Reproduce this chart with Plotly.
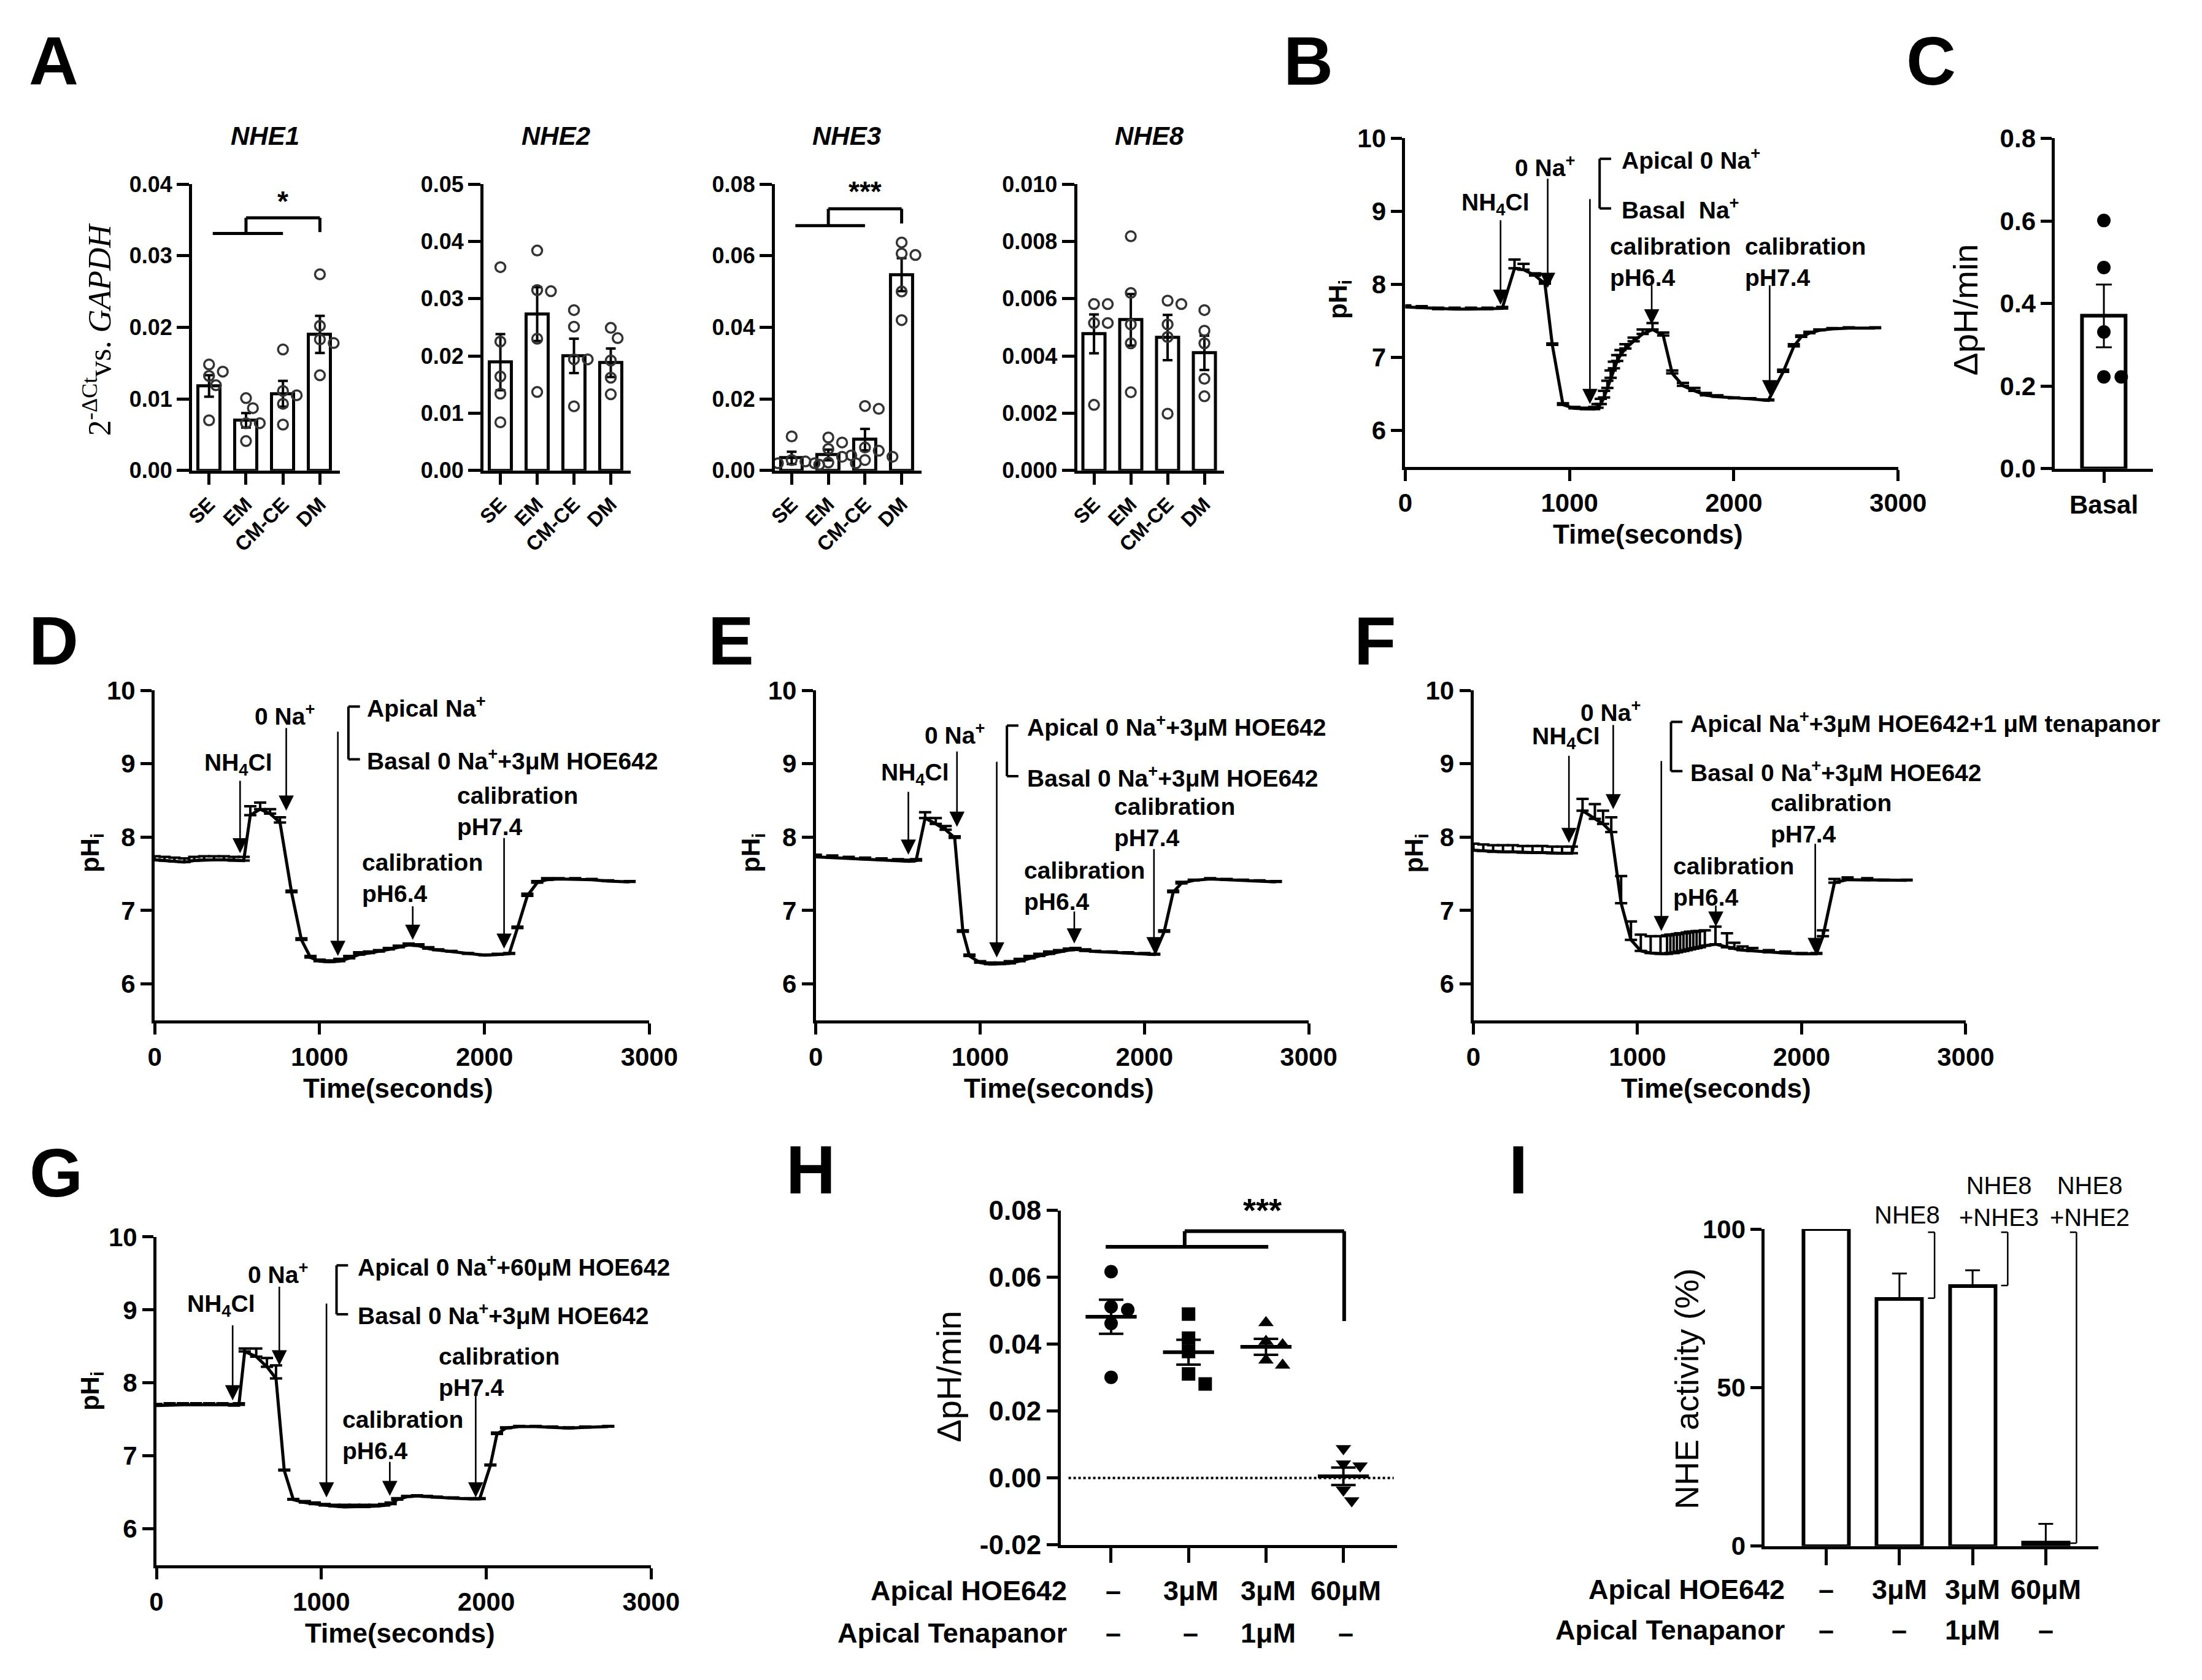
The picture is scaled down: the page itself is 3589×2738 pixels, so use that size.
import plotly.graph_objects as go

W, H = 3589, 2738
PAGE_MARGIN = 8  # default body margin of the html page


def PX(x):
    return (x - PAGE_MARGIN) / W


def PY(y):
    return 1 - (y - PAGE_MARGIN) / H


FN = "Liberation Sans, Arial, sans-serif"
FA = "Liberation Sans, Arial, sans-serif"
FS = "Liberation Serif, Times New Roman, serif"

# ---------------- Panel A data ----------------
A_CATS = ["SE", "EM", "CM-CE", "DM"]
A_GENES = ["NHE1", "NHE2", "NHE3", "NHE8"]
NHE1_MEAN = [0.0118, 0.0070, 0.0107, 0.0190]
NHE1_SEM = [0.0015, 0.0010, 0.0018, 0.0026]
NHE1_PTS = [[0.0148, 0.0138, 0.0132, 0.0119, 0.0070],
            [0.0101, 0.0087, 0.0066, 0.0066, 0.0041],
            [0.0169, 0.0111, 0.0105, 0.0093, 0.0064],
            [0.0274, 0.0202, 0.0183, 0.0178, 0.0133]]
NHE2_MEAN = [0.0189, 0.0273, 0.0200, 0.0188]
NHE2_SEM = [0.0049, 0.0047, 0.0030, 0.0025]
NHE2_PTS = [[0.0355, 0.0225, 0.0164, 0.0134, 0.0084],
            [0.0384, 0.0315, 0.0313, 0.0230, 0.0137],
            [0.0280, 0.0251, 0.0194, 0.0194, 0.0112],
            [0.0249, 0.0231, 0.0192, 0.0162, 0.0133]]
NHE3_MEAN = [0.0035, 0.0043, 0.0086, 0.0547]
NHE3_SEM = [0.0017, 0.0015, 0.0030, 0.0046]
NHE3_PTS = [[0.0095, 0.0029, 0.0025, 0.0020, 0.0016],
            [0.0092, 0.0078, 0.0060, 0.0038, 0.0022, 0.0020, 0.0020],
            [0.0180, 0.0172, 0.0064, 0.0055, 0.0042, 0.0038, 0.0029],
            [0.0637, 0.0606, 0.0602, 0.0500, 0.0420]]
NHE8_MEAN = [0.00477, 0.00526, 0.00464, 0.00411]
NHE8_SEM = [0.00068, 0.00090, 0.00079, 0.00060]
NHE8_PTS = [[0.00581, 0.00581, 0.00515, 0.00515, 0.00229],
            [0.00818, 0.00620, 0.00510, 0.00444, 0.00273],
            [0.00593, 0.00581, 0.00510, 0.00466, 0.00198],
            [0.00560, 0.00488, 0.00444, 0.00320, 0.00259]]
A_YMAX = [0.04, 0.05, 0.08, 0.010]
A_DTICK = [0.01, 0.01, 0.02, 0.002]
A_FMT = [".2f", ".2f", ".2f", ".3f"]

# ---------------- Panel B/C data ----------------
B_T = [0, 100, 200, 300, 400, 500, 590, 665, 720, 790, 850, 895, 960, 1030, 1100,
       1150, 1170, 1190, 1210, 1230, 1250, 1270, 1290, 1310, 1340, 1390, 1445, 1505,
       1570, 1625, 1690, 1760, 1830, 1900, 2000, 2100, 2210, 2300, 2365, 2410, 2460,
       2520, 2600, 2700, 2860]
B_PH = [7.69, 7.68, 7.66, 7.66, 7.66, 7.66, 7.67, 8.22, 8.20, 8.12, 8.01, 7.17, 6.35,
        6.30, 6.29, 6.29, 6.31, 6.36, 6.45, 6.58, 6.72, 6.85, 6.95, 7.03, 7.12, 7.22,
        7.32, 7.38, 7.30, 6.78, 6.61, 6.54, 6.48, 6.46, 6.44, 6.43, 6.41, 6.80, 7.15,
        7.28, 7.33, 7.37, 7.39, 7.40, 7.40]
B_SEM = [0.02, 0.02, 0.02, 0.02, 0.02, 0.02, 0.02, 0.12, 0.08, 0.03, 0.03, 0.02, 0.02,
         0.02, 0.02, 0.03, 0.05, 0.07, 0.09, 0.10, 0.10, 0.09, 0.08, 0.07, 0.06, 0.05,
         0.06, 0.09, 0.04, 0.04, 0.04, 0.04, 0.03, 0.02, 0.01, 0.01, 0.01, 0.03, 0.03,
         0.02, 0.02, 0.01, 0.01, 0.01, 0.01]
C_MEAN = [0.37]
C_SEM = [0.076]
C_PTS = [0.601, 0.487, 0.331, 0.222, 0.222]

# ---------------- Panel D-G data ----------------
D_T = [0, 60, 120, 180, 240, 300, 360, 420, 480, 540, 580, 640, 700, 760, 830, 890,
       945, 1000, 1060, 1120, 1180, 1240, 1300, 1360, 1420, 1480, 1540, 1600, 1660,
       1720, 1800, 1900, 2000, 2080, 2150, 2200, 2260, 2320, 2380, 2450, 2550, 2650,
       2750, 2880]
D_PH = [7.69, 7.68, 7.67, 7.66, 7.68, 7.69, 7.69, 7.69, 7.68, 7.68, 8.30, 8.38, 8.32,
        8.20, 7.25, 6.60, 6.36, 6.31, 6.30, 6.31, 6.35, 6.40, 6.42, 6.44, 6.47, 6.50,
        6.53, 6.52, 6.48, 6.46, 6.44, 6.41, 6.39, 6.40, 6.41, 6.76, 7.20, 7.38, 7.42,
        7.43, 7.43, 7.42, 7.40, 7.39]
D_SEM = [0.05, 0.05, 0.05, 0.05, 0.05, 0.05, 0.05, 0.05, 0.05, 0.05, 0.12, 0.09, 0.06,
         0.07, 0.02, 0.02, 0.02, 0.02, 0.02, 0.03, 0.03, 0.03, 0.02, 0.02, 0.02, 0.02,
         0.02, 0.02, 0.02, 0.01, 0.01, 0.01, 0.01, 0.01, 0.01, 0.02, 0.03, 0.02, 0.02,
         0.01, 0.01, 0.01, 0.01, 0.01]
E_T = [0, 100, 200, 300, 400, 500, 570, 610, 665, 730, 790, 845, 895, 935, 1000, 1060,
       1120, 1180, 1240, 1300, 1360, 1420, 1480, 1540, 1580, 1640, 1700, 1800, 1900,
       2000, 2060, 2120, 2175, 2225, 2300, 2400, 2500, 2600, 2700, 2800]
E_PH = [7.73, 7.72, 7.71, 7.70, 7.69, 7.68, 7.67, 7.68, 8.26, 8.18, 8.10, 7.99, 6.71,
        6.38, 6.29, 6.27, 6.27, 6.28, 6.31, 6.35, 6.38, 6.41, 6.44, 6.46, 6.47, 6.45,
        6.44, 6.43, 6.42, 6.41, 6.40, 6.71, 7.25, 7.37, 7.41, 7.43, 7.42, 7.41, 7.40,
        7.39]
E_SEM = [0.03, 0.03, 0.02, 0.02, 0.02, 0.02, 0.02, 0.02, 0.08, 0.08, 0.05, 0.02, 0.02,
         0.02, 0.02, 0.02, 0.02, 0.03, 0.03, 0.03, 0.03, 0.03, 0.02, 0.02, 0.02, 0.02,
         0.01, 0.01, 0.01, 0.01, 0.01, 0.02, 0.02, 0.02, 0.01, 0.01, 0.01, 0.01, 0.01,
         0.01]
F_T = [0, 60, 120, 180, 240, 300, 360, 420, 480, 540, 600, 665, 740, 790, 840, 900,
       960, 1020, 1080, 1140, 1180, 1200, 1220, 1240, 1260, 1280, 1300, 1320, 1340,
       1360, 1380, 1410, 1475, 1545, 1590, 1640, 1700, 1800, 1900, 2000, 2090, 2130,
       2200, 2280, 2400, 2500, 2640]
F_PH = [7.82, 7.81, 7.80, 7.80, 7.80, 7.79, 7.79, 7.79, 7.78, 7.78, 7.78, 8.36, 8.25,
        8.18, 8.07, 7.10, 6.60, 6.45, 6.42, 6.41, 6.41, 6.42, 6.42, 6.43, 6.44, 6.45,
        6.46, 6.47, 6.48, 6.49, 6.50, 6.52, 6.54, 6.50, 6.48, 6.46, 6.45, 6.43, 6.42,
        6.41, 6.41, 6.65, 7.38, 7.42, 7.42, 7.41, 7.41]
F_SEM = [0.09, 0.09, 0.09, 0.09, 0.09, 0.09, 0.09, 0.09, 0.09, 0.09, 0.09, 0.16, 0.20,
         0.18, 0.20, 0.37, 0.25, 0.22, 0.23, 0.24, 0.25, 0.25, 0.25, 0.25, 0.25, 0.24,
         0.24, 0.24, 0.23, 0.23, 0.22, 0.21, 0.24, 0.19, 0.08, 0.05, 0.04, 0.03, 0.02,
         0.01, 0.01, 0.08, 0.05, 0.03, 0.02, 0.01, 0.01]
G_T = [0, 80, 160, 240, 320, 400, 470, 500, 535, 605, 670, 725, 775, 830, 900, 960,
       1020, 1080, 1140, 1200, 1260, 1320, 1380, 1420, 1460, 1520, 1580, 1640, 1700,
       1800, 1900, 1960, 2025, 2065, 2120, 2200, 2300, 2400, 2500, 2600, 2740]
G_PH = [7.69, 7.70, 7.70, 7.70, 7.70, 7.70, 7.69, 7.70, 8.43, 8.36, 8.22, 8.06, 6.80,
        6.40, 6.36, 6.34, 6.32, 6.31, 6.30, 6.30, 6.30, 6.31, 6.32, 6.34, 6.40, 6.44,
        6.45, 6.44, 6.43, 6.42, 6.41, 6.41, 6.87, 7.30, 7.38, 7.40, 7.40, 7.39, 7.38,
        7.39, 7.40]
G_SEM = [0.02, 0.02, 0.02, 0.02, 0.02, 0.02, 0.02, 0.02, 0.04, 0.11, 0.12, 0.18, 0.01,
         0.01, 0.02, 0.02, 0.02, 0.02, 0.03, 0.03, 0.03, 0.02, 0.02, 0.02, 0.02, 0.01,
         0.01, 0.01, 0.01, 0.01, 0.01, 0.01, 0.01, 0.02, 0.01, 0.01, 0.01, 0.01, 0.01,
         0.01, 0.01]

# ---------------- Panel H / I data ----------------
H_PTS = [[0.0617, 0.0512, 0.0503, 0.0462, 0.0301],
         [0.0490, 0.0418, 0.0378, 0.0311, 0.0281],
         [0.0464, 0.0408, 0.0398, 0.0352, 0.0337],
         [0.0088, 0.0042, 0.0036, -0.0036, -0.0068]]
H_MEAN = [0.0482, 0.0376, 0.0392, 0.0005]
H_SEM = [0.0051, 0.0037, 0.0024, 0.0026]
H_SYMBOLS = ["circle", "square", "triangle-up", "triangle-down"]
H_TICKS = [-0.02, 0.0, 0.02, 0.04, 0.06, 0.08]
H_TICKTEXT = ["-0.02", "0.00", "0.02", "0.04", "0.06", "0.08"]
ROW_HOE = ["–", "3μM", "3μM", "60μM"]
ROW_TEN = ["–", "–", "1μM", "–"]
I_MEAN = [100, 78, 82, 1]
I_SEM = [0, 8, 5, 6]

fig = go.Figure()
ann = []
shp = []


def sfx(i):
    return "" if i == 1 else str(i)


def make_axes(i, x0, x1, ytop, ybot, xa, ya):
    s = sfx(i)
    base = dict(showline=True, linecolor="black", linewidth=5, ticks="outside",
                tickcolor="black", tickwidth=5, showgrid=False, zeroline=False,
                fixedrange=True)
    xd = {**base, "domain": [PX(x0), PX(x1)], "anchor": "y" + s, **xa}
    yd = {**base, "domain": [PY(ybot), PY(ytop)], "anchor": "x" + s, **ya}
    fig.update_layout({"xaxis" + s: xd, "yaxis" + s: yd})


def tfont(size, family=FN, bold=True, italic=False):
    return dict(family=family, size=size, color="black",
                weight="bold" if bold else "normal",
                style="italic" if italic else "normal")


def text(x, y, t, size, family=FN, bold=True, xref="paper", yref="paper",
         xanchor="center", yanchor="middle", angle=0, italic=False, align="center"):
    if xref == "paper":
        x = PX(x)
    if yref == "paper":
        y = PY(y)
    ann.append(dict(x=x, y=y, xref=xref, yref=yref, text=t, showarrow=False,
                    xanchor=xanchor, yanchor=yanchor, textangle=angle, align=align,
                    font=tfont(size, family, bold, italic)))


def line(i, x0, y0, x1, y1, w=5, dash="solid"):
    s = sfx(i)
    shp.append(dict(type="line", xref="x" + s, yref="y" + s, x0=x0, y0=y0, x1=x1, y1=y1,
                    line=dict(color="black", width=w, dash=dash)))


def arrow(i, x, y0, y1):
    s = sfx(i)
    ann.append(dict(x=x, y=y1, ax=x, ay=y0, xref="x" + s, yref="y" + s,
                    axref="x" + s, ayref="y" + s, text="", showarrow=True,
                    arrowhead=2, arrowsize=1.9, arrowwidth=2.6, arrowcolor="black"))


def ypix(v, ytop, ybot, lo, hi):
    # pixel row of a data value on a linear axis spanning [lo, hi]
    return ybot - (v - lo) / (hi - lo) * (ybot - ytop)


def swarm(vals, center, xunit_per_px, yunit_per_px, d):
    placed = []
    xs = [0.0] * len(vals)
    order = sorted(range(len(vals)), key=lambda k: -vals[k])
    for k in order:
        chosen = 0.0
        for step in [0, 1, -1, 2, -2, 3, -3, 4, -4]:
            xo = step * d * 0.6
            ok = all((xo - p) ** 2 + ((vals[k] - v) / yunit_per_px) ** 2 >= (0.95 * d) ** 2
                     for p, v in placed)
            if ok:
                chosen = xo
                break
        placed.append((chosen, vals[k]))
        xs[k] = center + chosen * xunit_per_px
    return xs


# ---------------- Panel A ----------------
A_X = [(305, 550), (788, 1032), (1271, 1514), (1772, 2016)]
A_YTOP, A_YBOT = 280, 755
A_MEANS = [NHE1_MEAN, NHE2_MEAN, NHE3_MEAN, NHE8_MEAN]
A_SEMS = [NHE1_SEM, NHE2_SEM, NHE3_SEM, NHE8_SEM]
A_PTS = [NHE1_PTS, NHE2_PTS, NHE3_PTS, NHE8_PTS]
for g in range(4):
    i = g + 1
    s = sfx(i)
    x0, x1 = A_X[g]
    make_axes(i, x0, x1, A_YTOP, A_YBOT,
              dict(range=[-0.46, 3.54], tickvals=[0, 1, 2, 3], ticktext=A_CATS,
                   tickangle=-45, ticklen=18, tickfont=tfont(33)),
              dict(range=[0, A_YMAX[g]], dtick=A_DTICK[g], tick0=0, tickformat=A_FMT[g],
                   ticklen=20, tickfont=tfont(36)))
    fig.add_trace(go.Bar(x=[0, 1, 2, 3], y=A_MEANS[g], width=0.6,
                         marker=dict(color="white", line=dict(color="black", width=5)),
                         error_y=dict(type="data", array=A_SEMS[g], color="black",
                                      thickness=4, width=8),
                         xaxis="x" + s, yaxis="y" + s, showlegend=False, cliponaxis=False))
    upx_x = 4.0 / (x1 - x0)
    upx_y = A_YMAX[g] / (A_YBOT - A_YTOP)
    for c in range(4):
        vals = A_PTS[g][c]
        xs = swarm(vals, c, upx_x, upx_y, 19)
        fig.add_trace(go.Scatter(x=xs, y=vals, mode="markers",
                                 marker=dict(symbol="circle-open", size=16, color="#333333",
                                             line=dict(width=3.5, color="#333333")),
                                 xaxis="x" + s, yaxis="y" + s, showlegend=False,
                                 cliponaxis=False))
    text((x0 + x1) / 2 - 2, 200, A_GENES[g], 42, italic=True)

SIG_A = {1: dict(y1=0.0331, y2=0.0353, y3=0.0333, ys=0.0376, label="*"),
         3: dict(y1=0.0684, y2=0.0731, y3=0.0690, ys=0.0780, label="***")}
for i, b in SIG_A.items():
    line(i, 0.1, b["y1"], 2.0, b["y1"], 5)
    line(i, 1.0, b["y1"], 1.0, b["y2"], 5)
    line(i, 1.0, b["y2"], 3.0, b["y2"], 5)
    line(i, 3.0, b["y2"], 3.0, b["y3"], 5)
    text(2.0, b["ys"], b["label"], 46, xref="x" + sfx(i), yref="y" + sfx(i))

text(148, 521, "2<sup>-ΔCt</sup>vs. <i>GAPDH</i>", 52, family=FS, bold=False, angle=-90)

# ---------------- trace panels ----------------
TRACE_PANELS = [
    (5, (2316, 3133), (204, 749), B_T, B_PH, B_SEM),
    (7, (243, 1063), (1120, 1668), D_T, D_PH, D_SEM),
    (8, (1339, 2156), (1120, 1668), E_T, E_PH, E_SEM),
    (9, (2429, 3245), (1120, 1668), F_T, F_PH, F_SEM),
    (10, (246, 1066), (2027, 2572), G_T, G_PH, G_SEM),
]
for i, (x0, x1), (yt, yb), t, ph, sem in TRACE_PANELS:
    s = sfx(i)
    make_axes(i, x0, x1, yt, yb,
              dict(range=[0, 3000], tickvals=[0, 1000, 2000, 3000], ticklen=18,
                   tickfont=tfont(42)),
              dict(range=[5.5, 10], tickvals=[6, 7, 8, 9, 10], ticklen=18,
                   tickfont=tfont(42)))
    fig.add_trace(go.Scatter(x=t, y=ph, mode="lines", line=dict(color="black", width=5),
                             error_y=dict(type="data", array=sem, arrayminus=[0] * len(sem),
                                          symmetric=False, color="black", thickness=4,
                                          width=10),
                             xaxis="x" + s, yaxis="y" + s, showlegend=False,
                             cliponaxis=False))
    text((x0 + x1) / 2 - 6, yb + 112, "Time(seconds)", 44)

PHI_POS = {5: (2207, 471), 7: (138, 1390), 8: (1234, 1390), 9: (2333, 1390),
           10: (138, 2283)}
for i, (x, y) in PHI_POS.items():
    text(x, y, "pH<sub>i</sub>", 42, angle=-90)

NA = "Na<sup>+</sup>"
TRACE_ANN = {
    5: dict(nh4=(551, 9.1, 580, 8.89, 7.72), na=(849, 9.62, 867, 9.46, 7.95),
            long=(1124, 9.18, 6.36), br=(1183, 9.72, 9.04), lab_x=1310,
            lab1="Apical 0 " + NA, lab2="Basal\u00a0\u00a0" + NA,
            cal64=(1239, 8.31, 1500, 8.0, 7.45), cal74=(2058, 8.31, 2218, 8.0, 6.48)),
    7: dict(nh4=(509, 8.99, 518, 8.78, 7.78), na=(789, 9.67, 798, 9.5, 8.36),
            long=(1111, 9.45, 6.38), br=(1175, 9.78, 9.06), lab_x=1279,
            lab1="Apical " + NA, lab2="Basal 0 " + NA + "+3μM HOE642",
            cal64=(1251, 7.44, 1565, 7.07, 6.6), cal74=(1825, 8.35, 2119, 8.0, 6.48)),
    8: dict(nh4=(603, 8.86, 563, 8.63, 7.76), na=(846, 9.41, 859, 9.18, 8.14),
            long=(1101, 9.04, 6.36), br=(1163, 9.52, 8.83), lab_x=1277,
            lab1="Apical 0 " + NA + "+3μM HOE642", lab2="Basal 0 " + NA + "+3μM HOE642",
            cal64=(1258, 7.33, 1573, 7.0, 6.55), cal74=(1810, 8.2, 2058, 7.85, 6.43)),
    9: dict(nh4=(566, 9.35, 582, 9.12, 7.92), na=(836, 9.72, 852, 9.54, 8.38),
            long=(1145, 9.05, 6.72), br=(1204, 9.57, 8.9), lab_x=1315,
            lab1="Apical " + NA + "+3μM HOE642+1 μM tenapanor",
            lab2="Basal 0 " + NA + "+3μM HOE642",
            cal64=(1210, 7.39, 1477, 7.08, 6.78), cal74=(1803, 8.25, 2083, 7.92, 6.42)),
    10: dict(nh4=(392, 9.06, 462, 8.8, 7.76), na=(737, 9.51, 745, 9.33, 8.24),
             long=(1031, 9.1, 6.43), br=(1092, 9.61, 8.94), lab_x=1213,
             lab1="Apical 0 " + NA + "+60μM HOE642", lab2="Basal 0 " + NA + "+3μM HOE642",
             cal64=(1120, 7.28, 1415, 6.93, 6.45), cal74=(1703, 8.15, 1936, 7.86, 6.43)),
}
AF = 39
for i, a in TRACE_ANN.items():
    s = sfx(i)
    xr, yr = "x" + s, "y" + s
    lx, ly, ax_, ay0, ay1 = a["nh4"]
    text(lx, ly, "NH<sub>4</sub>Cl", AF, xref=xr, yref=yr)
    arrow(i, ax_, ay0, ay1)
    lx, ly, ax_, ay0, ay1 = a["na"]
    text(lx, ly, "0 " + NA, AF, xref=xr, yref=yr)
    arrow(i, ax_, ay0, ay1)
    lx, y0, y1 = a["long"]
    arrow(i, lx, y0, y1)
    bx, by0, by1 = a["br"]
    line(i, bx, by0, bx, by1, 4)
    line(i, bx, by0, bx + 70, by0, 4)
    line(i, bx, by1, bx + 70, by1, 4)
    text(a["lab_x"], by0, a["lab1"], AF, xref=xr, yref=yr, xanchor="left")
    text(a["lab_x"], by1, a["lab2"], AF, xref=xr, yref=yr, xanchor="left")
    for key, lab in (("cal64", "calibration<br>pH6.4"), ("cal74", "calibration<br>pH7.4")):
        lx, ly, ax_, ay0, ay1 = a[key]
        text(lx, ly, lab, AF, xref=xr, yref=yr, xanchor="left", align="left")
        arrow(i, ax_, ay0, ay1)

# ---------------- Panel C ----------------
make_axes(6, 3393, 3555, 204, 752,
          dict(range=[-1, 1], tickvals=[0], ticktext=["Basal"], ticklen=18,
               tickfont=tfont(42)),
          dict(range=[0, 0.8], tickvals=[0, 0.2, 0.4, 0.6, 0.8], tickformat=".1f",
               ticklen=18, tickfont=tfont(42)))
fig.add_trace(go.Bar(x=[0], y=C_MEAN, width=0.9,
                     marker=dict(color="white", line=dict(color="black", width=6)),
                     error_y=dict(type="data", array=C_SEM, color="black", thickness=3,
                                  width=13),
                     xaxis="x6", yaxis="y6", showlegend=False, cliponaxis=False))
cx = swarm(C_PTS, 0, 2.0 / 162, 0.8 / 548, 24)
fig.add_trace(go.Scatter(x=cx, y=C_PTS, mode="markers",
                         marker=dict(symbol="circle", size=22, color="black"),
                         xaxis="x6", yaxis="y6", showlegend=False, cliponaxis=False))
text(3245, 488, "ΔpH/min", 56, family=FA, bold=False, angle=-90)

# ---------------- Panel H ----------------
H_YT, H_YB = 1983, 2538
make_axes(11, 1745, 2302, H_YT, H_YB,
          dict(range=[-0.65, 3.69], tickvals=[0, 1, 2, 3], showticklabels=False,
               ticklen=24),
          dict(range=[-0.02, 0.08], tickvals=H_TICKS, ticktext=H_TICKTEXT, ticklen=18,
               tickfont=tfont(44)))
for c in range(4):
    xs = swarm(H_PTS[c], c, 4.34 / 557, 0.1 / 555, 23)
    fig.add_trace(go.Scatter(x=xs, y=H_PTS[c], mode="markers",
                             marker=dict(symbol=H_SYMBOLS[c], size=22, color="black"),
                             xaxis="x11", yaxis="y11", showlegend=False, cliponaxis=False))
fig.add_trace(go.Scatter(x=[0, 1, 2, 3], y=H_MEAN, mode="markers",
                         marker=dict(size=1, color="rgba(0,0,0,0)"),
                         error_x=dict(type="constant", value=0.33, color="black",
                                      thickness=6, width=0),
                         error_y=dict(type="data", array=H_SEM, color="black",
                                      thickness=4, width=20),
                         xaxis="x11", yaxis="y11", showlegend=False, cliponaxis=False))
line(11, -0.55, 0, 3.65, 0, 4, "dot")
line(11, -0.07, 0.0691, 2.03, 0.0691, 6)
line(11, 0.95, 0.0691, 0.95, 0.0738, 6)
line(11, 0.95, 0.0738, 3.01, 0.0738, 6)
line(11, 3.01, 0.0738, 3.01, 0.0469, 6)
text(1.95, ypix(0.0801, H_YT, H_YB, -0.02, 0.08), "***", 54, xref="x11")
text(1560, 2259, "ΔpH/min", 56, family=FA, bold=False, angle=-90)
text(1757, 2614, "Apical HOE642", 45, xanchor="right")
text(1757, 2684, "Apical Tenapanor", 45, xanchor="right")
for c in range(4):
    text(c + 0.03, 2614, ROW_HOE[c], 45, xref="x11")
    text(c + 0.03, 2684, ROW_TEN[c], 45, xref="x11")

# ---------------- Panel I ----------------
I_YT, I_YB = 2014, 2540
make_axes(12, 2912, 3465, I_YT, I_YB,
          dict(range=[-0.84, 3.72], tickvals=[0, 1, 2, 3], showticklabels=False,
               ticklen=26),
          dict(range=[0, 100], tickvals=[0, 50, 100], ticklen=18, tickfont=tfont(42)))
fig.add_trace(go.Bar(x=[0, 1, 2, 3], y=I_MEAN, width=0.62,
                     marker=dict(color="white", line=dict(color="black", width=6)),
                     error_y=dict(type="data", array=I_SEM, arrayminus=[0] * 4,
                                  symmetric=False, color="black", thickness=3, width=12),
                     xaxis="x12", yaxis="y12", showlegend=False, cliponaxis=False))
I_BRACKETS = [(1.48, 99, 78.2, 1.11, 104.5, "NHE8"),
              (2.48, 99, 82.2, 2.36, 108.7, "NHE8<br>+NHE3"),
              (3.42, 99, 0.9, 3.60, 108.7, "NHE8<br>+NHE2")]
for bx, y0, y1, lx, ly, lab in I_BRACKETS:
    line(12, bx, y0, bx, y1, 2.5)
    line(12, bx - 0.09, y0, bx, y0, 2.5)
    line(12, bx - 0.09, y1, bx, y1, 2.5)
    text(lx, ypix(ly, I_YT, I_YB, 0, 100), lab, 40, family=FA, bold=False, xref="x12")
text(2783, 2279, "NHE activity (%)", 54, family=FA, bold=False, angle=-90)
text(2947, 2612, "Apical HOE642", 45, xanchor="right")
text(2947, 2679, "Apical Tenapanor", 45, xanchor="right")
for c in range(4):
    text(c, 2612, ROW_HOE[c], 45, xref="x12")
    text(c, 2679, ROW_TEN[c], 45, xref="x12")

# ---------------- panel letters ----------------
LETTERS = {"A": (76, 76), "B": (2155, 76), "C": (3188, 76), "D": (76, 1038),
           "E": (1198, 1038), "F": (2266, 1038), "G": (80, 1921), "H": (1331, 1916),
           "I": (2503, 1916)}
for k, (x, y) in LETTERS.items():
    text(x, y, k, 112, family=FA)

fig.update_layout(width=W, height=H, margin=dict(l=0, r=0, t=0, b=0),
                  plot_bgcolor="white", paper_bgcolor="white", showlegend=False,
                  annotations=ann, shapes=shp, bargap=0)
fig.write_html("out.html")
